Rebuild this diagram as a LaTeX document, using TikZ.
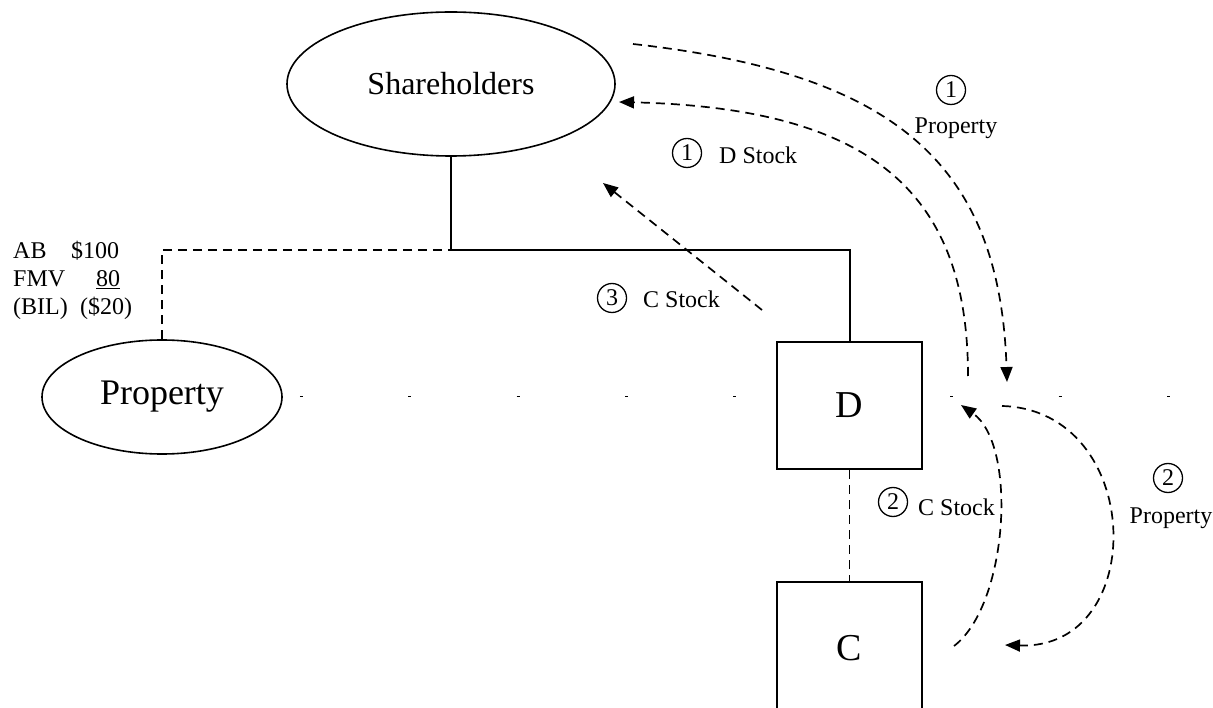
\documentclass[tikz,border=0pt]{standalone}
\usepackage{fontspec}
\setmainfont{Liberation Serif}
\usetikzlibrary{arrows.meta,shapes.geometric}

\tikzset{
  entity/.style={draw, line width=1.6pt, ellipse, inner sep=0pt},
  corp/.style={draw, line width=2pt, fill=white, minimum width=145pt,
    inner sep=0pt, font=\fontsize{38}{40}\selectfont},
  link/.style={line width=2pt},
  tie/.style={line width=1.7pt, dash pattern=on 9pt off 6pt},
  sparse/.style={line width=1pt, dash pattern=on 3pt off 105.4pt, dash phase=91.4pt},
  flow/.style={tie, -{Triangle[length=15pt,width=12pt]}},
  stepnum/.style={draw, circle, line width=1.3pt, minimum size=29pt,
    inner sep=0pt, font=\fontsize{24}{26}\selectfont},
  lbl/.style={inner sep=0pt, font=\fontsize{24}{26}\selectfont},
}

\begin{document}
\begin{tikzpicture}[x=1pt,y=-1pt]
\useasboundingbox (0,0) rectangle (1213,708);

% entities
\node[entity, minimum width=328pt, minimum height=144pt,
      font=\fontsize{32}{34}\selectfont] (sh) at (451,84) {Shareholders};
\node[entity, minimum width=240pt, minimum height=114pt,
      font=\fontsize{36}{38}\selectfont] (prop) at (162,397) {Property};

% faint line across the page at the property level
\coordinate (rightend) at (1213,397);
\draw[sparse] (prop.east) -- (rightend);

% corporations
\node[corp, minimum height=127pt] (D) at (849.5,405.5) {D};
\node[corp, minimum height=132pt] (C) at (849.5,648) {C};

% ownership lines
\coordinate (junction) at (451,250);
\coordinate (elbow) at (849.5,250);
\draw[link] (sh.south) -- (junction) -- (elbow) -- (D.north);
\draw[tie] (prop.north) |- (junction);
\draw[tie] (D.south) -- (C.north);

% basis figures of the property
\node[lbl, anchor=base west] (ab)   at (13,259) {AB};
\node[lbl, anchor=base west] (abv)  at (71,259) {\$100};
\node[lbl, anchor=base west] (fmv)  at (13,287) {FMV};
\node[lbl, anchor=base west] (fmvv) at (96,287) {\underline{80}};
\node[lbl, anchor=base west] (bil)  at (13,315) {(BIL)};
\node[lbl, anchor=base west] (bilv) at (80,315) {(\$20)};

% transfer ends
\coordinate (p1s) at (633,44);
\coordinate (p1e) at (1007,382);
\coordinate (d1s) at (968,376);
\coordinate (d1e) at (619,102);
\coordinate (c3s) at (762,310);
\coordinate (c3e) at (603,183);
\coordinate (c2s) at (954,646);
\coordinate (c2e) at (961,405);
\coordinate (p2s) at (1002,406);
\coordinate (p2e) at (1005,645);

% transfers
\draw[flow] (p1s) .. controls (893,73) and (1000,162) .. (p1e);
\draw[flow] (d1s) .. controls (968,190) and (869,108) .. (d1e);
\draw[flow] (c3s) -- (c3e);
\draw[flow] (c2s) .. controls (1008,605) and (1018,445) .. (c2e);
\draw[flow] (p2s) .. controls (1145,410) and (1150,650) .. (p2e);

% step labels
\node[stepnum] (n1a) at (951,90) {1};
\node[lbl] (t1a) at (956,128) {Property};
\node[stepnum] (n1b) at (687,153) {1};
\node[lbl, anchor=west] (t1b) at (719,155) {D Stock};
\node[stepnum] (n3) at (612,298) {3};
\node[lbl, anchor=west] (t3) at (643,299) {C Stock};
\node[stepnum] (n2a) at (893,502) {2};
\node[lbl, anchor=west] (t2a) at (918,507) {C Stock};
\node[stepnum] (n2b) at (1168,478) {2};
\node[lbl] (t2b) at (1171,518) {Property};
\end{tikzpicture}
\end{document}
